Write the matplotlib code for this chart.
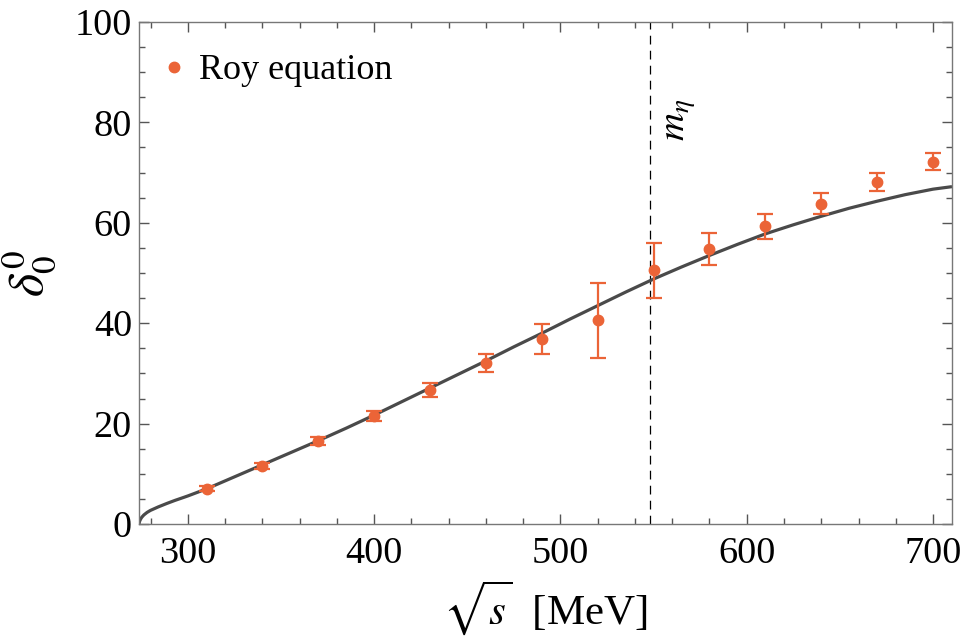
import numpy as np
import matplotlib
matplotlib.use("Agg")
import matplotlib.pyplot as plt
from matplotlib.ticker import MultipleLocator
from matplotlib.lines import Line2D

plt.rcParams['font.family'] = ['Liberation Serif', 'DejaVu Serif']
plt.rcParams['mathtext.fontset'] = 'stix'

# Roy equation data points
roy_x = [310, 340, 370, 400, 430, 460, 490, 520, 550, 580, 610, 640, 670, 700]
roy_y = [7.0, 11.6, 16.5, 21.5, 26.6, 32.0, 36.9, 40.6, 50.5, 54.7, 59.3, 63.8, 68.1, 72.2]
roy_err = [0.5, 0.6, 0.8, 1.0, 1.4, 1.8, 3.0, 7.5, 5.4, 3.2, 2.5, 2.1, 1.8, 1.7]

# Theory curve
curve_x = [273.7, 273.9, 274.2, 274.6, 275.2, 276.3, 278.0, 279.8, 284, 288.7, 293, 297.7,
           300, 305, 310, 325, 340, 355,
           370, 385, 400, 415, 430, 445, 460, 475, 490, 505, 520, 535, 550, 565,
           580, 595, 610, 625, 640, 655, 670, 685, 700, 710.2]
curve_y = [0.0, 0.4, 0.7, 1.0, 1.35, 1.8, 2.3, 2.7, 3.4, 4.1, 4.7, 5.3,
           5.6, 6.3, 7.0, 9.4, 11.8, 14.2,
           16.6, 19.1, 21.7, 24.4, 27.1, 29.8, 32.5, 35.3, 38.0, 40.8, 43.5, 46.2, 48.8, 51.2,
           53.5, 55.7, 57.8, 59.6, 61.3, 62.9, 64.3, 65.6, 66.7, 67.2]

m_eta = 547.86
orange = "#EB6437"

fig = plt.figure(figsize=(9.63, 6.36), dpi=100)
ax = fig.add_axes([139/963, 1 - 524/636, (952-139)/963, (524-22)/636])

ax.plot(curve_x, curve_y, color="#4a4a4a", lw=2.3, zorder=2, solid_capstyle='butt')
ax.errorbar(roy_x, roy_y, yerr=roy_err, fmt='o', color=orange, ms=7.5, capsize=5.5,
            elinewidth=1.6, capthick=1.6, zorder=3)
ax.axvline(m_eta, color="black", lw=0.9, ls=(0, (7, 5)), zorder=1)
ax.text(564, 80.5, r"$m_\eta$", rotation=90, ha="center", va="center", fontsize=28)

ax.set_xlim(273.7, 710.2)
ax.set_ylim(0, 100)
ax.xaxis.set_major_locator(MultipleLocator(100))
ax.xaxis.set_minor_locator(MultipleLocator(20))
ax.yaxis.set_major_locator(MultipleLocator(20))
ax.yaxis.set_minor_locator(MultipleLocator(5))
ax.tick_params(which='both', direction='in', top=True, right=True, color="#555555", width=1.0,
               labelsize=27.5)
ax.tick_params(axis='x', which='both', pad=9)
ax.tick_params(axis='y', which='both', pad=5)
ax.tick_params(which='major', length=7)
ax.tick_params(which='minor', length=4)
for s in ax.spines.values():
    s.set_color("#777777")
    s.set_linewidth(1.0)

ax.set_xlabel(r"$\sqrt{s}$  [MeV]", fontsize=31, labelpad=5)
ax.set_ylabel(r"$\delta_0^0$", fontsize=36, labelpad=12)

handle = Line2D([], [], ls='none', marker='o', color=orange, ms=7.5)
leg = ax.legend([handle], ["Roy equation"], loc="upper left", frameon=False, fontsize=26,
                handletextpad=0.2, handlelength=1.0, borderaxespad=0.0, borderpad=0.4,
                bbox_to_anchor=(0.0025, 0.965))

fig.savefig("out.png", dpi=100)
